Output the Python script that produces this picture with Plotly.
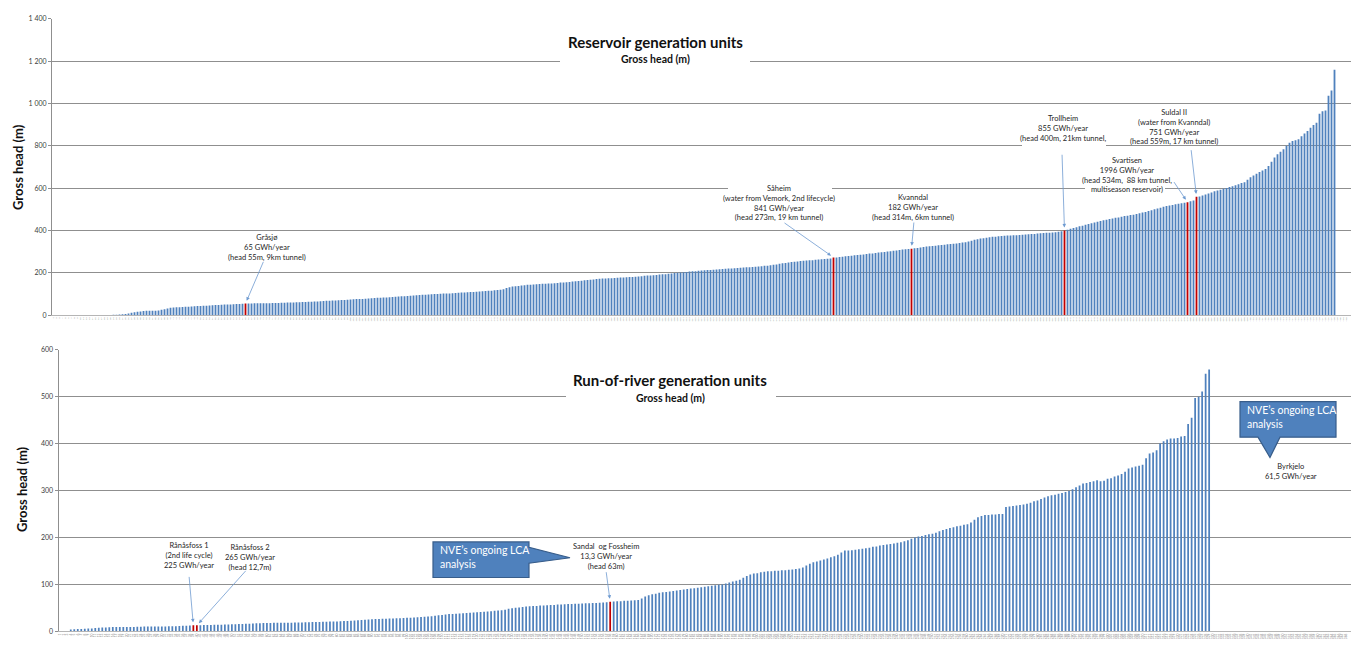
import plotly.graph_objects as go

W, H = 1351, 660
FONT = "Lato"
BLUE = "#4F81BD"
RED = "#C00000"
GRID = "#8f8f8f"
TEXT = "#262626"

# ---------------------------------------------------------------- data
# Gross head (m) of reservoir generation units, sorted ascending
reservoir_head = [
    0, 0, 0, 0, 0, 0, 0, 0, 0, 0, 0, 0, 0, 0, 0, 0, 0, 0,
    1, 1, 2, 2, 3, 4, 6, 8,
    12, 14, 16, 18, 20, 21,
    21, 21, 21, 22, 26, 28,
    32, 35, 36, 37,
    38, 39, 40, 40, 41,
    42, 43, 44, 45, 45, 46,
    47, 48, 48, 49, 50, 50,
    51, 52, 53, 53, 54,
    55,
    55, 55, 56, 56, 56, 57, 57, 57, 58, 58, 58, 59, 59, 60, 60, 60,
    61, 61, 62, 62, 63, 64, 65, 65, 66, 67, 68, 68, 69, 70, 71, 72, 72, 73,
    74, 75, 76, 77, 77, 78, 79, 80, 81, 82, 82, 83, 84, 85, 86, 87, 88,
    89, 90, 91, 92, 93, 94, 95, 96, 97, 98, 99,
    100, 100, 101, 102, 103, 103, 104, 105, 106, 107, 107,
    108, 109, 110, 111, 112, 113, 114, 115, 116, 118, 119,
    120, 122, 128, 132,
    136, 137, 138, 140, 142,
    144, 144, 145, 146, 147, 148, 149, 150, 150, 151,
    152, 154, 155,
    156, 157, 159, 160, 162, 163, 165, 166, 168, 169, 171,
    172, 173, 173, 174, 175, 176, 177, 178, 178, 179, 180,
    181, 182, 183, 184, 186, 187, 188, 189, 190, 192, 193,
    194, 196, 197, 199, 200, 202,
    203, 204, 206, 207, 208, 210,
    211, 212, 213, 214, 215, 216, 217, 218, 219, 220, 221,
    222, 223, 224, 225, 226, 227, 228, 229, 230, 231, 233,
    234, 236, 238, 240, 243,
    245, 247, 249, 251, 253, 254,
    256, 257, 258, 259, 260, 262, 263, 264, 265, 267, 268,
    273,
    273, 275, 276, 278, 280, 281, 283, 284, 286, 287,
    289, 291, 292, 294, 296, 297, 299, 301, 302, 304, 306,
    308, 310, 311, 313,
    314,
    316, 318, 320, 322, 324, 326,
    327, 328, 330, 331, 333, 335, 336, 338, 339, 341, 343,
    344, 348, 352, 356, 359,
    362, 364, 366, 368, 370, 371,
    373, 374, 375, 376, 377, 378, 378, 379, 380, 381, 382,
    383, 384, 386, 387, 388, 389, 390, 391, 392,
    394, 396,
    400,
    404, 408,
    412, 416, 420, 423, 427, 431, 434, 438, 441,
    445, 448, 451, 454, 457, 460, 462, 465, 468, 470, 473,
    475, 478, 481, 485, 488, 492, 496, 500, 504, 508, 512,
    516, 518, 521, 524, 527, 529, 531,
    534,
    538, 542,
    559,
    561, 565, 570, 575, 580, 585,
    589, 593, 597, 601, 605,
    609, 614, 619, 624,
    628, 640,
    652, 660, 668, 676, 684,
    691, 705, 725, 745, 760, 772,
    784, 800, 815,
    823, 827,
    831, 845, 858,
    870, 885, 898, 909,
    952, 963, 967,
    1037, 1061,
    1160,
    0, 0, 0, 0, 0,
]

# Gross head (m) of run-of-river generation units, sorted ascending
ror_head = [
    0, 0, 0,
    4, 4.5, 5, 5, 5.5, 6, 6, 7, 7.5, 8,
    8, 8.5, 9, 9, 9, 9, 9, 9,
    9, 9.5, 9.5, 10, 10, 10, 10, 10, 10.5,
    10.5, 11, 11, 11, 11.5, 12, 12, 12.5,
    12.7, 12.7,
    13, 13.4, 13.4, 13.5, 14, 14, 14, 14.5, 14.5,
    15, 15, 15.5, 15.5, 16, 16, 16.5, 17, 17, 17.5,
    17.6, 17.8, 18, 18, 18, 18, 18.5, 18.5, 19,
    19, 19, 19.5, 19.5, 20, 20, 20, 20.5, 20.5, 21,
    21, 21, 21.5, 22, 22, 22.5, 23, 23.5, 24, 24.5,
    25, 25.5, 26, 26.5, 27, 27, 27.5, 27.5, 28,
    28, 28.5, 29, 29, 29.5, 30, 30.5, 31, 31.5,
    32, 33, 34, 35, 36, 37, 37, 37.5, 38, 38.5,
    39, 39.5, 40, 40.5, 41, 41.5, 42, 43, 44, 44.5,
    45, 46, 48, 49, 50, 51, 52, 53, 53.5,
    54, 54, 55, 55, 55.5, 56, 56, 57, 57, 57.5,
    58, 58, 58.5, 59, 59.5, 60, 60, 60.5, 60.5,
    61, 61.5, 62,
    63,
    63.5, 64, 64, 65, 65, 65.5,
    66, 67, 70, 74, 77,
    79, 80, 82, 83,
    84, 85, 86, 87, 88,
    89, 90, 91, 92, 93,
    94, 95, 96, 97, 98,
    99, 100, 102, 104,
    106, 108, 110, 114, 118,
    121, 123, 124, 126, 127,
    128, 128, 129, 129,
    130, 130, 131, 132, 133,
    134, 136, 140, 144, 147,
    149, 151, 153, 155, 158,
    160, 163, 168,
    172, 172, 173, 174, 175, 176,
    177, 178, 180, 181, 183,
    184, 185, 186, 187, 189,
    190, 192, 194, 197, 200,
    202, 203, 205, 207,
    208, 210, 213,
    216, 218, 220, 222, 224, 225, 227,
    228, 232, 238, 243, 246,
    248, 248, 249, 249, 250,
    250,
    265, 266, 267, 268, 269, 270,
    272, 274,
    277, 279, 282, 285, 288,
    290, 291, 293, 295, 297,
    299, 303, 307, 311,
    315, 316, 318, 320, 322,
    320,
    321, 325, 326, 330, 332, 335, 340, 347, 349, 351, 353, 355, 369, 379,
    381, 386, 400, 405, 409, 411, 411, 412, 415, 416, 442, 455, 497, 500,
    511, 549, 558,
    0, 0, 0, 0, 0, 0, 0, 0, 0, 0, 0, 0, 0, 0, 0, 0, 0, 0, 0, 0,
    0, 0, 0, 0, 0, 0, 0, 0, 0, 0, 0, 0, 0, 0, 0, 0, 0, 0, 0, 0,
]

# Highlighted units (position in the sorted series)
reservoir_marked = {64: "Gråsjø", 260: "Såheim", 286: "Kvanndal",
                    337: "Trollheim", 378: "Svartisen", 381: "Suldal II"}
ror_marked = {38: "Rånåsfoss 1", 39: "Rånåsfoss 2", 157: "Sandal og Fossheim"}

reservoir_ticks = [0, 200, 400, 600, 800, 1000, 1200, 1400]
reservoir_ticktext = ["0", "200", "400", "600", "800", "1\u00a0000", "1\u00a0200", "1\u00a0400"]
ror_ticks = [0, 100, 200, 300, 400, 500, 600]
ror_ticktext = ["0", "100", "200", "300", "400", "500", "600"]

N_RES = len(reservoir_head)
N_ROR = len(ror_head)

# ---------------------------------------------------------------- layout geometry (pixels)
TOP = dict(x0=52, x1=W, y0=14, y1=314, ymax=1400, n=N_RES)
BOT = dict(x0=58.5, x1=W, y0=349, y1=634, ymax=600, n=N_ROR)


def px(x):
    return x / W


def py(y):
    return 1 - y / H


def bar_top_px(panel, i, v):
    step = (panel["x1"] - panel["x0"]) / panel["n"]
    return (panel["x0"] + (i + 0.5) * step,
            panel["y1"] - v * (panel["y1"] - panel["y0"]) / panel["ymax"])


fig = go.Figure()

fig.add_trace(go.Bar(
    x=list(range(N_RES)), y=reservoir_head, width=0.6,
    marker=dict(color=[RED if i in reservoir_marked else BLUE for i in range(N_RES)],
                line=dict(width=0)),
    xaxis="x", yaxis="y", hoverinfo="skip", showlegend=False,
))
fig.add_trace(go.Bar(
    x=list(range(N_ROR)), y=ror_head, width=0.5,
    marker=dict(color=[RED if i in ror_marked else BLUE for i in range(N_ROR)],
                line=dict(width=0)),
    xaxis="x2", yaxis="y2", hoverinfo="skip", showlegend=False,
))

common_y = dict(showgrid=True, gridcolor=GRID, gridwidth=1, zeroline=False,
                showline=True, linecolor=GRID, linewidth=1, ticks="outside",
                ticklen=3, tickcolor=GRID, tickfont=dict(family=FONT, size=7, color="#404040"),
                tickmode="array", fixedrange=True)
common_x = dict(showgrid=False, zeroline=False, showline=True, linecolor="#b5b5b5",
                linewidth=1, ticks="", tickmode="array", tickangle=-90,
                tickfont=dict(family=FONT, size=2.5, color="#8a8a8a"), fixedrange=True)

fig.update_layout(
    width=W, height=H, margin=dict(l=0, r=0, t=0, b=0),
    paper_bgcolor="white", plot_bgcolor="white",
    font=dict(family=FONT, color=TEXT),
    xaxis=dict(common_x, domain=[px(TOP["x0"]), 1], anchor="y",
               range=[-0.5, N_RES - 0.5],
               tickvals=list(range(N_RES)), ticktext=[str(i + 1) for i in range(N_RES)]),
    yaxis=dict(common_y, domain=[py(TOP["y1"]), py(TOP["y0"])], anchor="x",
               range=[0, 1400], tickvals=reservoir_ticks, ticktext=reservoir_ticktext),
    xaxis2=dict(common_x, domain=[px(BOT["x0"]), 1], anchor="y2",
                range=[-0.5, N_ROR - 0.5],
                tickvals=list(range(N_ROR)), ticktext=[str(i + 1) for i in range(N_ROR)],
                tickfont=dict(family=FONT, size=3.2, color="#8a8a8a")),
    yaxis2=dict(common_y, domain=[py(BOT["y1"]), py(BOT["y0"])], anchor="x2",
                range=[0, 600], tickvals=ror_ticks, ticktext=ror_ticktext),
)

shapes = []
annotations = []


def mask(x0, x1, y0, y1):
    shapes.append(dict(type="rect", xref="paper", yref="paper",
                       x0=px(x0), x1=px(x1), y0=py(y1), y1=py(y0),
                       fillcolor="white", line=dict(width=0), layer="above"))


def label(x, y, text, size=7.5, color=TEXT, xanchor="center", align="center", bold=False):
    if bold:
        text = "<b>" + text + "</b>"
    annotations.append(dict(xref="paper", yref="paper", x=px(x), y=py(y), text=text,
                            showarrow=False, xanchor=xanchor, yanchor="middle", align=align,
                            font=dict(family=FONT, size=size, color=color)))


def arrow(panel, axis, i, v, tail):
    hx, hy = bar_top_px(panel, i, v)
    annotations.append(dict(xref=axis[0], yref=axis[1], x=i, y=v, text="",
                            showarrow=True, axref="pixel", ayref="pixel",
                            ax=tail[0] - hx, ay=tail[1] - hy,
                            arrowhead=2, arrowsize=0.9, arrowwidth=0.8,
                            arrowcolor="#6f9bd1", standoff=3))


# White boxes behind titles and labels that sit on gridlines
mask(560, 750, 50, 64)
mask(566, 776, 390, 404)
mask(728, 832, 180, 190)
mask(1022, 1106, 138, 147)
mask(1085, 1165, 180, 190)

# Panel titles
label(655, 37, "Reservoir generation units", size=15, bold=True, color="#111111")
label(655, 55, "Gross head (m)", size=10.5, bold=True, color="#111111")
label(670, 380, "Run-of-river generation units", size=15, bold=True, color="#111111")
label(670, 398, "Gross head (m)", size=10.5, bold=True, color="#111111")

# Axis titles
for ax_x, ax_y in ((18, 164), (22, 490)):
    annotations.append(dict(xref="paper", yref="paper", x=px(ax_x), y=py(ax_y),
                            text="<b>Gross head (m)</b>", textangle=-90, showarrow=False,
                            xanchor="center", yanchor="middle",
                            font=dict(family=FONT, size=13, color="#111111")))

# Reservoir unit labels
label(267, 245.5, "Gråsjø<br>65 GWh/year<br>(head 55m, 9km tunnel)")
label(779, 200, "Såheim<br>(water from Vemork, 2nd lifecycle)<br>841 GWh/year<br>(head 273m, 19 km tunnel)")
label(913, 205, "Kvanndal<br>182 GWh/year<br>(head 314m, 6km tunnel)")
label(1063, 125, "Trollheim<br>855 GWh/year<br>(head 400m, 21km tunnel,")
label(1127, 172.5, "Svartisen<br>1996 GWh/year<br>(head 534m,  88 km tunnel,<br>multiseason reservoir)")
label(1174, 123, "Suldal II<br>(water from Kvanndal)<br>751 GWh/year<br>(head 559m, 17 km tunnel)")

arrow(TOP, ("x", "y"), 64, reservoir_head[64], (264, 259))
arrow(TOP, ("x", "y"), 260, reservoir_head[260], (783, 220))
arrow(TOP, ("x", "y"), 286, reservoir_head[286], (914, 219))
arrow(TOP, ("x", "y"), 337, reservoir_head[337], (1062, 151))
arrow(TOP, ("x", "y"), 378, reservoir_head[378], (1173, 178))
arrow(TOP, ("x", "y"), 381, reservoir_head[381], (1191, 146))

# Run-of-river unit labels
label(189, 557.5, "Rånåsfoss 1<br>(2nd life cycle)<br>225 GWh/year")
label(250, 559.5, "Rånåsfoss 2<br>265 GWh/year<br>(head 12,7m)")
label(606, 558.5, "Sandal  og Fossheim<br>13,3 GWh/year<br>(head 63m)")
label(1291, 472, "Byrkjelo<br>61,5 GWh/year")

arrow(BOT, ("x2", "y2"), 38, ror_head[38], (189, 578))
arrow(BOT, ("x2", "y2"), 39, ror_head[39], (247, 572))
arrow(BOT, ("x2", "y2"), 157, ror_head[157], (606, 573))


# Callout boxes
def callout(points):
    path = "M " + " L ".join(f"{px(x):.5f},{py(y):.5f}" for x, y in points) + " Z"
    shapes.append(dict(type="path", xref="paper", yref="paper", path=path,
                       fillcolor="#4F81BD", line=dict(color="#385D8A", width=1.2), layer="above"))


callout([(433, 543.5), (529, 543.5), (529, 549), (570, 559.5), (529, 565),
         (529, 579.5), (433, 579.5)])
callout([(1240, 401.5), (1336, 401.5), (1336, 437.5), (1280, 437.5), (1270, 458),
         (1258, 437.5), (1240, 437.5)])
label(438, 559, "NVE’s ongoing LCA<br>analysis", size=10.5, color="white", xanchor="left", align="left")
label(1245, 417.5, "NVE’s ongoing LCA<br>analysis", size=10.5, color="white", xanchor="left", align="left")

fig.update_layout(shapes=shapes, annotations=annotations)

fig.write_html("out.html", config={"displayModeBar": False, "staticPlot": True})
